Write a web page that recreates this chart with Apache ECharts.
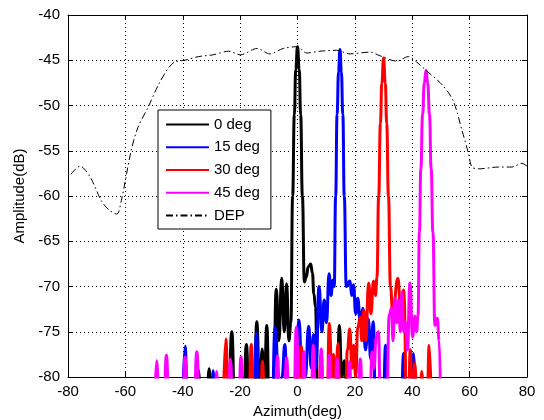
<!DOCTYPE html>
<html>
<head>
<meta charset="utf-8">
<script src="https://cdn.jsdelivr.net/npm/echarts/dist/echarts.min.js"></script>
<style>
    html, body { margin: 0; padding: 0; background: #fff; }
    #chart { width: 544px; height: 420px; }
</style>
</head>
<body>
<div id="chart"></div>
<script>
// tick labels
var xTicks = [-80, -60, -40, -20, 0, 20, 40, 60, 80]
var yTicks = [-80, -75, -70, -65, -60, -55, -50, -45, -40]
var names = ['0 deg', '15 deg', '30 deg', '45 deg', 'DEP']

// [azimuth deg, amplitude dB]; -85 = below the floor
var beam0 = [
    [-36.5, -85], [-34.6, -79.2], [-33.5, -85], [-31.8, -85], [-30.8, -79.1], [-29.8, -85],
    [-24.2, -85], [-22.9, -75.0], [-21.8, -85],
    [-19.0, -85], [-17.8, -76.4], [-16.8, -85],
    [-15.2, -85], [-14.2, -73.9], [-13.2, -82], [-12.3, -76.9], [-11.6, -82], [-10.7, -74.3], [-9.8, -85],
    [-8.4, -82], [-7.4, -70.3], [-6.5, -76], [-5.5, -69.1], [-4.6, -75], [-3.8, -69.7], [-3.0, -76],
    [-2.3, -74], [-1.7, -60], [-1.1, -51], [-0.6, -46], [0, -43.5], [0.6, -46], [1.1, -51], [1.7, -60],
    [2.4, -69.5], [3.0, -69], [3.8, -67.8], [4.6, -67.5], [5.2, -68.5], [5.7, -70.8], [6.3, -72.3], [7.0, -85],
    [13.6, -85], [14.6, -74.3], [15.4, -80], [16.4, -78.2], [17.2, -85]
]
var beam15 = [
    [-40.2, -85], [-39.2, -76.6], [-38.2, -85],
    [-30.2, -85], [-29.4, -79.3], [-28.6, -85],
    [-15.3, -85], [-14.3, -75.2], [-13.3, -85],
    [-9.0, -85], [-7.8, -74.5], [-6.4, -82], [-5.4, -80], [-4.4, -76.4], [-3.4, -85],
    [-0.8, -85], [0.5, -73.7], [1.6, -80], [2.7, -80], [3.9, -74.4], [4.8, -79], [5.6, -75.3], [6.5, -79],
    [7.5, -70.0], [8.5, -75], [9.3, -71.5], [10.1, -74], [11.0, -68.6], [11.7, -71], [12.3, -69.3],
    [12.8, -70], [13.3, -60], [13.8, -51], [14.3, -46.3], [14.8, -43.8], [15.3, -46.3], [15.8, -51], [16.3, -60],
    [17.0, -70], [18.3, -69.4], [18.9, -71], [19.5, -69.8], [20.3, -73], [21.0, -71.3], [21.9, -74],
    [22.8, -72.4], [23.7, -77], [24.7, -73.6], [25.5, -78], [26.4, -73.9], [27.3, -85],
    [29.8, -85], [30.7, -76.5], [31.6, -85],
    [36.0, -85], [37.0, -77.4], [38.0, -85], [39.5, -85], [40.5, -77.4], [41.5, -85]
]
var beam30 = [
    [-26.0, -85], [-25.0, -75.8], [-24.0, -85],
    [-17.1, -85], [-16.1, -76.4], [-15.1, -85],
    [-13.0, -85], [-12.2, -78.3], [-11.4, -85],
    [-1.2, -85], [-0.3, -77.8], [0.5, -82], [1.3, -76.6], [2.3, -85],
    [7.2, -85], [8.2, -77.6], [9.1, -85],
    [10.2, -85], [11.1, -74.1], [12.0, -80], [12.6, -77.5], [13.3, -82], [14.1, -76.3], [15.0, -85],
    [16.6, -85], [17.4, -77], [18.2, -74.7], [19.0, -79], [19.6, -76.5], [20.3, -80], [21.0, -74.5],
    [21.9, -73.4], [22.4, -76], [23.1, -72.6], [23.8, -76], [24.8, -69.6], [25.6, -73], [26.5, -69.4],
    [27.2, -71], [27.7, -69], [28.3, -60], [28.9, -52], [29.4, -47.5], [30.0, -44.75], [30.6, -47.5],
    [31.1, -52], [31.7, -60], [32.4, -70], [33.2, -73], [35.0, -69.1], [36.0, -73], [37.0, -70.4], [38.2, -85],
    [38.6, -85], [39.3, -77], [40.1, -85], [40.9, -78.5], [41.8, -85], [42.6, -85], [43.3, -79.4], [44.2, -85],
    [45.1, -85], [45.9, -76.5], [46.8, -85]
]
var beam45 = [
    [-50.0, -85], [-49.1, -78.2], [-48.1, -85], [-46.7, -85], [-45.7, -77.6], [-44.7, -85],
    [-40.2, -85], [-39.2, -77.8], [-38.2, -85],
    [-36.2, -85], [-35.1, -77.2], [-34.0, -85],
    [-28.9, -85], [-28.2, -79.4], [-27.5, -85],
    [-24.4, -85], [-23.4, -78.0], [-22.4, -85],
    [-20.6, -85], [-19.7, -77.8], [-18.8, -85],
    [-8.0, -85], [-7.0, -77.7], [-6.0, -85],
    [-4.8, -85], [-3.8, -77.9], [-2.8, -85],
    [-1.4, -85], [-0.4, -74.5], [0.8, -85],
    [1.4, -85], [2.2, -77.2], [3.0, -85],
    [4.6, -85], [5.5, -76.5], [6.4, -85],
    [7.4, -85], [8.3, -76.9], [9.2, -85],
    [10.2, -85], [11.1, -77.6], [12.0, -85],
    [12.9, -85], [13.8, -78.0], [14.7, -85],
    [17.2, -85], [18.1, -78.3], [19.0, -85],
    [21.0, -85], [21.9, -78.0], [22.8, -85],
    [25.1, -85], [26.0, -77.2], [26.7, -79], [27.4, -75.6], [28.2, -75.0], [29.0, -85],
    [31.0, -85], [32.0, -73.1], [32.8, -72.4], [33.3, -76], [33.9, -71.3], [34.6, -74], [35.2, -71.5],
    [35.9, -75], [36.4, -70.6], [37.0, -75], [37.6, -73.9], [38.3, -77], [39.2, -69.6], [40.1, -75.6],
    [40.9, -73.3], [41.5, -75], [42.0, -73.3], [42.5, -64], [43.0, -57], [43.6, -51], [44.2, -47.5],
    [44.8, -46.1], [45.4, -47.5], [46.0, -51], [46.6, -57], [47.2, -64], [47.9, -74.3], [48.7, -73.5],
    [49.4, -76], [50.0, -85]
]
var dep = [
    [-79, -57.6], [-75.8, -56.7], [-72.3, -57.9], [-68.4, -60.5], [-65.9, -61.5], [-63.0, -62.0],
    [-61.4, -60.5], [-58.0, -55.0], [-55.6, -52.4], [-52.1, -50.2], [-48.6, -47.8], [-45.1, -45.9],
    [-42.8, -45.2], [-39.3, -45.0], [-34.6, -44.6], [-29.4, -44.4], [-24.0, -44.0], [-19.9, -44.4],
    [-14.1, -43.7], [-9.6, -44.3], [-5.0, -43.7], [0, -43.5], [3.2, -44.2], [7.8, -44.0], [13.6, -43.9],
    [18.3, -44.3], [25.3, -44.1], [28.7, -44.5], [34.6, -45.1], [38.6, -44.6], [41.5, -45.2],
    [46.2, -46.5], [50.7, -47.8], [54.3, -49.5], [57.3, -52.7], [59.6, -55.3], [60.8, -56.8],
    [63.1, -57.0], [70.1, -56.8], [74.7, -56.8], [78.2, -56.4], [80, -56.7]
]

var font = 'Liberation Sans'

function beam(name, color, data) {
    return {
        name: name,
        type: 'line',
        data: data,
        symbol: 'none',
        smooth: 0.5,
        smoothMonotone: 'x',
        clip: true,
        lineStyle: { color: color, width: 3 },
        itemStyle: { color: color },
        emphasis: { disabled: true },
    }
}

// box lines on top and right, ticks pointing in (no labels)
var frame = {
    type: 'value',
    axisLine: { show: true, onZero: false, lineStyle: { color: '#000', width: 1 } },
    axisTick: { show: true, inside: true, length: 5, lineStyle: { color: '#000' } },
    axisLabel: { show: false },
    splitLine: { show: false },
}

var chart = echarts.init(document.getElementById('chart'))
var option = {
    animation: false,
    backgroundColor: '#fff',
    textStyle: { fontFamily: font },
    grid: { left: 68, right: 17, top: 15, bottom: 43, outerBoundsMode: 'none' },
    legend: {
        data: names,
        orient: 'vertical',
        left: 158,
        top: 110,
        itemWidth: 43,
        itemHeight: 14,
        itemGap: 7.75,
        padding: [7, 11, 6, 7],
        backgroundColor: '#fff',
        borderColor: '#000',
        borderWidth: 1,
        borderRadius: 0,
        // hide the marker dot, keep only the line
        itemStyle: { color: 'rgba(0,0,0,0)', borderColor: 'rgba(0,0,0,0)', borderWidth: 0 },
        textStyle: { fontFamily: font, fontSize: 15, color: '#000' },
    },
    xAxis: [
        {
            type: 'value',
            min: xTicks[0],
            max: xTicks[xTicks.length - 1],
            interval: 20,
            name: 'Azimuth(deg)',
            nameLocation: 'middle',
            nameGap: 25,
            nameTextStyle: { fontFamily: font, fontSize: 15, color: '#000' },
            axisLine: { onZero: false, lineStyle: { color: '#000' } },
            axisTick: { inside: true, length: 5, lineStyle: { color: '#000' } },
            axisLabel: { margin: 7, fontFamily: font, fontSize: 15, color: '#000' },
            splitLine: { show: true, lineStyle: { color: '#000', type: [1, 3], width: 1 } },
        },
        Object.assign({ position: 'top', min: -80, max: 80, interval: 20 }, frame),
    ],
    yAxis: [
        {
            type: 'value',
            min: yTicks[0],
            max: yTicks[yTicks.length - 1],
            interval: 5,
            name: 'Amplitude(dB)',
            nameLocation: 'middle',
            nameGap: 37,
            nameTextStyle: { fontFamily: font, fontSize: 15, color: '#000' },
            axisLine: { show: true, onZero: false, lineStyle: { color: '#000' } },
            axisTick: { show: true, inside: true, length: 5, lineStyle: { color: '#000' } },
            axisLabel: { margin: 8, fontFamily: font, fontSize: 15, color: '#000' },
            splitLine: { show: true, lineStyle: { color: '#000', type: [1, 3], width: 1 } },
        },
        Object.assign({ position: 'right', min: -80, max: -40, interval: 5 }, frame),
    ],
    series: [
        beam(names[0], '#000000', beam0),
        beam(names[1], '#0000ff', beam15),
        beam(names[2], '#ff0000', beam30),
        beam(names[3], '#ff00ff', beam45),
        {
            name: names[4],
            type: 'line',
            data: dep,
            symbol: 'none',
            smooth: 0.3,
            lineStyle: { color: '#000', width: 1, type: [7, 3, 1.5, 3] },
            itemStyle: { color: '#000' },
            emphasis: { disabled: true },
            z: 5,
        },
    ],
}
chart.setOption(option)
</script>
</body>
</html>
